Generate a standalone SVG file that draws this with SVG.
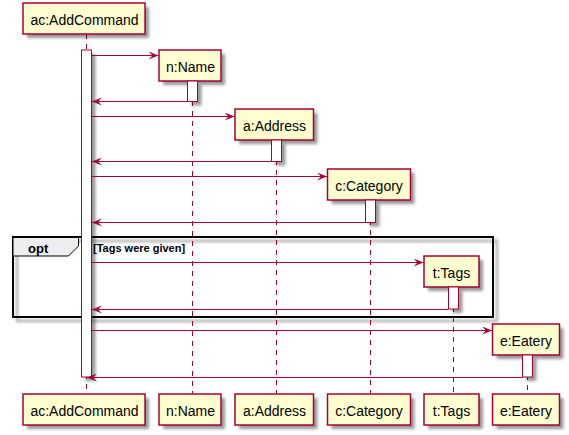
<svg xmlns="http://www.w3.org/2000/svg" width="569" height="435" viewBox="0 0 569 435">
  <style>
    .box { fill: #FEFECE; stroke: #A80036; stroke-width: 1.5; }
    .act { fill: #FFFFFF; stroke: #A80036; stroke-width: 1; }
    .shd { fill: #000000; stroke: none; opacity: 0.4; filter: url(#soft); }
    .life { stroke: #A80036; stroke-width: 1; stroke-dasharray: 5 5; fill: none; }
    .msg { stroke: #A80036; stroke-width: 1; fill: none; marker-end: url(#arr); }
    .lbl { font-family: "Liberation Sans", Arial, sans-serif; font-size: 14px; fill: #000000; text-anchor: middle; }
    .frame { fill: none; stroke: #000000; stroke-width: 2; }
    .frameshd { fill: none; stroke: #000000; stroke-width: 2; opacity: 0.4; filter: url(#soft); }
    .tab { fill: #EEEEEE; stroke: #000000; stroke-width: 1; }
    .opt { font-family: "Liberation Sans", Arial, sans-serif; font-size: 13px; font-weight: bold; fill: #000000; }
    .cond { font-family: "Liberation Sans", Arial, sans-serif; font-size: 11px; font-weight: bold; fill: #000000; }
  </style>
  <defs>
    <filter id="soft" x="-50%" y="-50%" width="200%" height="200%">
      <feGaussianBlur stdDeviation="1.6"/>
    </filter>
    <marker id="arr" viewBox="0 0 10 8" refX="10" refY="4" markerWidth="10" markerHeight="8" markerUnits="userSpaceOnUse" orient="auto">
      <path d="M0,0 L10,4 L0,8 L4,4 Z" fill="#A80036"/>
    </marker>
  </defs>

  <!-- opt combined fragment -->
  <g id="opt-fragment">
    <rect class="frameshd" x="17" y="241" width="480" height="80"/>
    <rect class="frame" x="13" y="237" width="480" height="80"/>
    <path class="tab" d="M13,237.5 L78.5,237.5 L78.5,246 L68.5,256 L13,256 Z"/>
    <text class="opt" x="28" y="252.5">opt</text>
    <text class="cond" x="93" y="251.5">[Tags were given]</text>
  </g>

  <!-- lifelines -->
  <g id="lifelines">
    <line class="life" x1="86.5" y1="34" x2="86.5" y2="394"/>
    <line class="life" x1="192.5" y1="81" x2="192.5" y2="394"/>
    <line class="life" x1="276.5" y1="140" x2="276.5" y2="394"/>
    <line class="life" x1="370.5" y1="200" x2="370.5" y2="394"/>
    <line class="life" x1="453.5" y1="287" x2="453.5" y2="394"/>
    <line class="life" x1="527.5" y1="355" x2="527.5" y2="394"/>
  </g>

  <!-- participants -->
  <g id="ac">
    <rect class="shd" x="27" y="7" width="122" height="31"/>
    <rect class="box" x="23" y="3" width="122" height="31"/>
    <text class="lbl" x="84.5" y="25">ac:AddCommand</text>
    <rect class="shd" x="85.5" y="54" width="10" height="327"/>
    <rect class="act" x="81.5" y="50" width="10" height="327"/>
    <rect class="shd" x="27" y="398" width="122" height="31"/>
    <rect class="box" x="23" y="394" width="122" height="31"/>
    <text class="lbl" x="84.5" y="416">ac:AddCommand</text>
  </g>
  <g id="n">
    <rect class="shd" x="163" y="54" width="62" height="31"/>
    <rect class="box" x="159" y="50" width="62" height="31"/>
    <text class="lbl" x="190.5" y="72">n:Name</text>
    <rect class="shd" x="191.5" y="85" width="10" height="20.5"/>
    <rect class="act" x="187.5" y="81" width="10" height="20.5"/>
    <rect class="shd" x="163" y="398" width="62" height="31"/>
    <rect class="box" x="159" y="394" width="62" height="31"/>
    <text class="lbl" x="190.5" y="416">n:Name</text>
  </g>
  <g id="a">
    <rect class="shd" x="239" y="113" width="78.5" height="31"/>
    <rect class="box" x="235" y="109" width="78.5" height="31"/>
    <text class="lbl" x="274.5" y="131">a:Address</text>
    <rect class="shd" x="275.5" y="144" width="10" height="21.5"/>
    <rect class="act" x="271.5" y="140" width="10" height="21.5"/>
    <rect class="shd" x="239" y="398" width="78.5" height="31"/>
    <rect class="box" x="235" y="394" width="78.5" height="31"/>
    <text class="lbl" x="274.5" y="416">a:Address</text>
  </g>
  <g id="c">
    <rect class="shd" x="331.5" y="173" width="83" height="31"/>
    <rect class="box" x="327.5" y="169" width="83" height="31"/>
    <text class="lbl" x="369" y="191">c:Category</text>
    <rect class="shd" x="369.5" y="204" width="10" height="22.5"/>
    <rect class="act" x="365.5" y="200" width="10" height="22.5"/>
    <rect class="shd" x="331.5" y="398" width="83" height="31"/>
    <rect class="box" x="327.5" y="394" width="83" height="31"/>
    <text class="lbl" x="369" y="416">c:Category</text>
  </g>
  <g id="t">
    <rect class="shd" x="428" y="260" width="55" height="31"/>
    <rect class="box" x="424" y="256" width="55" height="31"/>
    <text class="lbl" x="451.5" y="278">t:Tags</text>
    <rect class="shd" x="452.5" y="291" width="10" height="22"/>
    <rect class="act" x="448.5" y="287" width="10" height="22"/>
    <rect class="shd" x="428" y="398" width="55" height="31"/>
    <rect class="box" x="424" y="394" width="55" height="31"/>
    <text class="lbl" x="451.5" y="416">t:Tags</text>
  </g>
  <g id="e">
    <rect class="shd" x="496.5" y="328" width="67" height="31"/>
    <rect class="box" x="492.5" y="324" width="67" height="31"/>
    <text class="lbl" x="526" y="346">e:Eatery</text>
    <rect class="shd" x="526.5" y="359" width="10" height="22"/>
    <rect class="act" x="522.5" y="355" width="10" height="22"/>
    <rect class="shd" x="496.5" y="398" width="67" height="31"/>
    <rect class="box" x="492.5" y="394" width="67" height="31"/>
    <text class="lbl" x="526" y="416">e:Eatery</text>
  </g>

  <!-- messages -->
  <g id="connectors">
    <line class="msg" x1="91.5" y1="55.5" x2="158.5" y2="55.5"/>
    <line class="msg" x1="187.5" y1="101.5" x2="92" y2="101.5"/>
    <line class="msg" x1="91.5" y1="116.5" x2="234.5" y2="116.5"/>
    <line class="msg" x1="271.5" y1="161.5" x2="92" y2="161.5"/>
    <line class="msg" x1="91.5" y1="176.5" x2="327" y2="176.5"/>
    <line class="msg" x1="365.5" y1="222.5" x2="92" y2="222.5"/>
    <line class="msg" x1="91.5" y1="262.5" x2="423.5" y2="262.5"/>
    <line class="msg" x1="448.5" y1="309.5" x2="92" y2="309.5"/>
    <line class="msg" x1="91.5" y1="330.5" x2="492" y2="330.5"/>
    <line class="msg" x1="522.5" y1="377.5" x2="87" y2="377.5"/>
  </g>
</svg>
